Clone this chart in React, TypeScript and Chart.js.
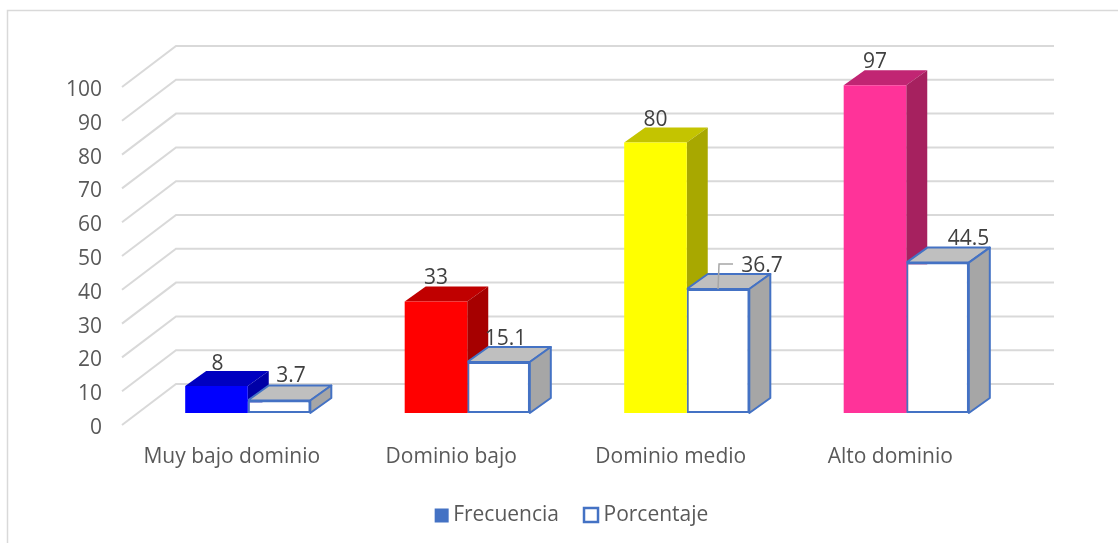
import React, { useEffect, useRef } from "react";
import { Chart, registerables } from "chart.js";

Chart.register(...registerables);

const categories = ["Muy bajo dominio", "Dominio bajo", "Dominio medio", "Alto dominio"];
const frecuencia = [8, 33, 80, 97];
const porcentaje = [3.7, 15.1, 36.7, 44.5];
const yTicks = [0, 10, 20, 30, 40, 50, 60, 70, 80, 90, 100];

const frontColors = ["#0000FF", "#FF0000", "#FFFF00", "#FF3399"];
const topColors = ["#0000C0", "#C00000", "#C4C400", "#C12573"];
const sideColors = ["#0000A6", "#A60000", "#A8A800", "#A6215F"];

const FONT = "'Open Sans'";
const TEXT = "#595959";
const LABEL = "#404040";
const GRID = "#D9D9D9";
const BLUE = "#4472C4";

// 3D look
const wallDx = 54;
const wallDy = -41;
const barDx = 21;
const barDy = -15;
const shiftX = 16;
const shiftY = -12;

// [dx, dy] of each value label from the top centre of its bar's front face
const labelOffsets = [
  [[1, -22], [0, -23], [0, -23], [0, -23]],
  [[12, -24], [7, -23], [44, -23], [31, -24]],
];

const depthPlugin = {
  id: "depth",
  beforeDraw(chart: any) {
    const { ctx, width, height } = chart;
    ctx.save();
    ctx.fillStyle = "#FFFFFF";
    ctx.fillRect(0, 0, width, height);
    ctx.strokeStyle = "#D9D9D9";
    ctx.lineWidth = 1.5;
    ctx.beginPath();
    ctx.moveTo(7.5, height);
    ctx.lineTo(7.5, 10.5);
    ctx.lineTo(width, 10.5);
    ctx.stroke();
    ctx.restore();
  },
  beforeDatasetsDraw(chart: any) {
    const { ctx, chartArea, scales } = chart;
    ctx.save();
    ctx.strokeStyle = GRID;
    ctx.lineWidth = 2;
    for (const v of yTicks) {
      const y = scales.y.getPixelForValue(v);
      ctx.beginPath();
      ctx.moveTo(chartArea.left, y);
      ctx.lineTo(chartArea.left + wallDx, y + wallDy);
      ctx.lineTo(chartArea.right + wallDx, y + wallDy);
      ctx.stroke();
    }
    ctx.translate(shiftX, shiftY);
    [0, 1].forEach((i) => {
      chart.getDatasetMeta(i).data.forEach((bar: any, k: number) => {
        const left = bar.x - bar.width / 2;
        const right = bar.x + bar.width / 2;
        const top = bar.y;
        const base = bar.base;
        const hollow = i === 1;
        ctx.lineJoin = "round";
        ctx.lineWidth = 2;
        ctx.strokeStyle = BLUE;
        // top face
        ctx.beginPath();
        ctx.moveTo(left, top);
        ctx.lineTo(left + barDx, top + barDy);
        ctx.lineTo(right + barDx, top + barDy);
        ctx.lineTo(right, top);
        ctx.closePath();
        ctx.fillStyle = hollow ? "#BFBFBF" : topColors[k];
        ctx.fill();
        if (hollow) ctx.stroke();
        // side face
        ctx.beginPath();
        ctx.moveTo(right, top);
        ctx.lineTo(right + barDx, top + barDy);
        ctx.lineTo(right + barDx, base + barDy);
        ctx.lineTo(right, base);
        ctx.closePath();
        ctx.fillStyle = hollow ? "#A6A6A6" : sideColors[k];
        ctx.fill();
        if (hollow) ctx.stroke();
      });
    });
    ctx.restore();
  },
  beforeDatasetDraw(chart: any) {
    chart.ctx.save();
    chart.ctx.translate(shiftX, shiftY);
  },
  afterDatasetDraw(chart: any) {
    chart.ctx.restore();
  },
  afterDatasetsDraw(chart: any) {
    const { ctx } = chart;
    ctx.save();
    ctx.font = `21px ${FONT}`;
    ctx.fillStyle = LABEL;
    ctx.textAlign = "center";
    ctx.textBaseline = "middle";
    [frecuencia, porcentaje].forEach((values, d) => {
      const meta = chart.getDatasetMeta(d);
      values.forEach((v, k) => {
        const bar = meta.data[k];
        const [dx, dy] = labelOffsets[d][k];
        const x = bar.x + shiftX + dx;
        const y = bar.y + shiftY + dy;
        ctx.fillText(String(v), x, y);
        if (d === 1 && k === 2) {
          // leader line of the moved label
          ctx.strokeStyle = "#A6A6A6";
          ctx.lineWidth = 1.5;
          ctx.beginPath();
          ctx.moveTo(bar.x + shiftX, bar.y + shiftY);
          ctx.lineTo(bar.x + shiftX + 1, y - 2);
          ctx.lineTo(x - 29, y - 2);
          ctx.stroke();
        }
      });
    });
    // legend swatches
    const boxes = chart.legend.legendHitBoxes;
    if (boxes && boxes.length === 2) {
      const size = 14;
      const y0 = boxes[0].top + (boxes[0].height - size) / 2;
      ctx.fillStyle = BLUE;
      ctx.fillRect(boxes[0].left + 1, y0, size, size);
      ctx.fillStyle = "#FFFFFF";
      ctx.strokeStyle = BLUE;
      ctx.lineWidth = 2.5;
      ctx.fillRect(boxes[1].left, y0 - 0.5, size, size);
      ctx.strokeRect(boxes[1].left, y0 - 0.5, size, size);
    }
    ctx.restore();
  },
};

export default function App() {
  const ref = useRef<HTMLCanvasElement>(null);
  useEffect(() => {
    const chart = new Chart(ref.current!, {
      type: "bar",
      data: {
        labels: categories,
        datasets: [
          {
            label: "Frecuencia",
            data: frecuencia,
            backgroundColor: frontColors,
            borderWidth: 0,
            barPercentage: 1,
            categoryPercentage: 0.57,
          },
          {
            label: "Porcentaje",
            data: porcentaje,
            backgroundColor: "#FFFFFF",
            borderColor: BLUE,
            borderWidth: 2,
            borderSkipped: false,
            barPercentage: 1,
            categoryPercentage: 0.57,
          },
        ],
      },
      options: {
        responsive: false,
        animation: false,
        layout: { padding: { top: 87, right: 0, left: 24, bottom: 7 } },
        scales: {
          x: {
            grid: { display: false },
            border: { display: false },
            afterFit: (s: any) => {
              s.height = 55;
            },
            ticks: {
              color: TEXT,
              font: { family: FONT, size: 21 },
              padding: 11,
              maxRotation: 0,
              autoSkip: false,
            },
          },
          y: {
            min: 0,
            max: 100,
            grid: { display: false },
            border: { display: false },
            afterFit: (s: any) => {
              s.width = 98;
            },
            ticks: {
              color: TEXT,
              font: { family: FONT, size: 21 },
              stepSize: 10,
              padding: 12,
              labelOffset: 3,
            },
          },
          spacer: {
            position: "right",
            grid: { display: false },
            border: { display: false },
            ticks: { display: false },
            afterFit: (s: any) => {
              s.width = 118;
            },
          },
        },
        plugins: {
          tooltip: { enabled: false },
          legend: {
            position: "bottom",
            labels: {
              color: TEXT,
              font: { family: FONT, size: 21 },
              boxWidth: 9,
              boxHeight: 14,
              padding: 25,
              generateLabels: (c: any) =>
                c.data.datasets.map((d: any, i: number) => ({
                  text: d.label,
                  fillStyle: "rgba(0,0,0,0)",
                  strokeStyle: "rgba(0,0,0,0)",
                  lineWidth: 0,
                  fontColor: TEXT,
                  datasetIndex: i,
                })),
            },
          },
        },
      },
      plugins: [depthPlugin],
    } as any);
    return () => chart.destroy();
  }, []);
  return (
    <div style={{ position: "fixed", left: 0, top: 0, width: 1118, height: 543 }}>
      <canvas ref={ref} width={1118} height={543} style={{ display: "block" }} />
    </div>
  );
}
